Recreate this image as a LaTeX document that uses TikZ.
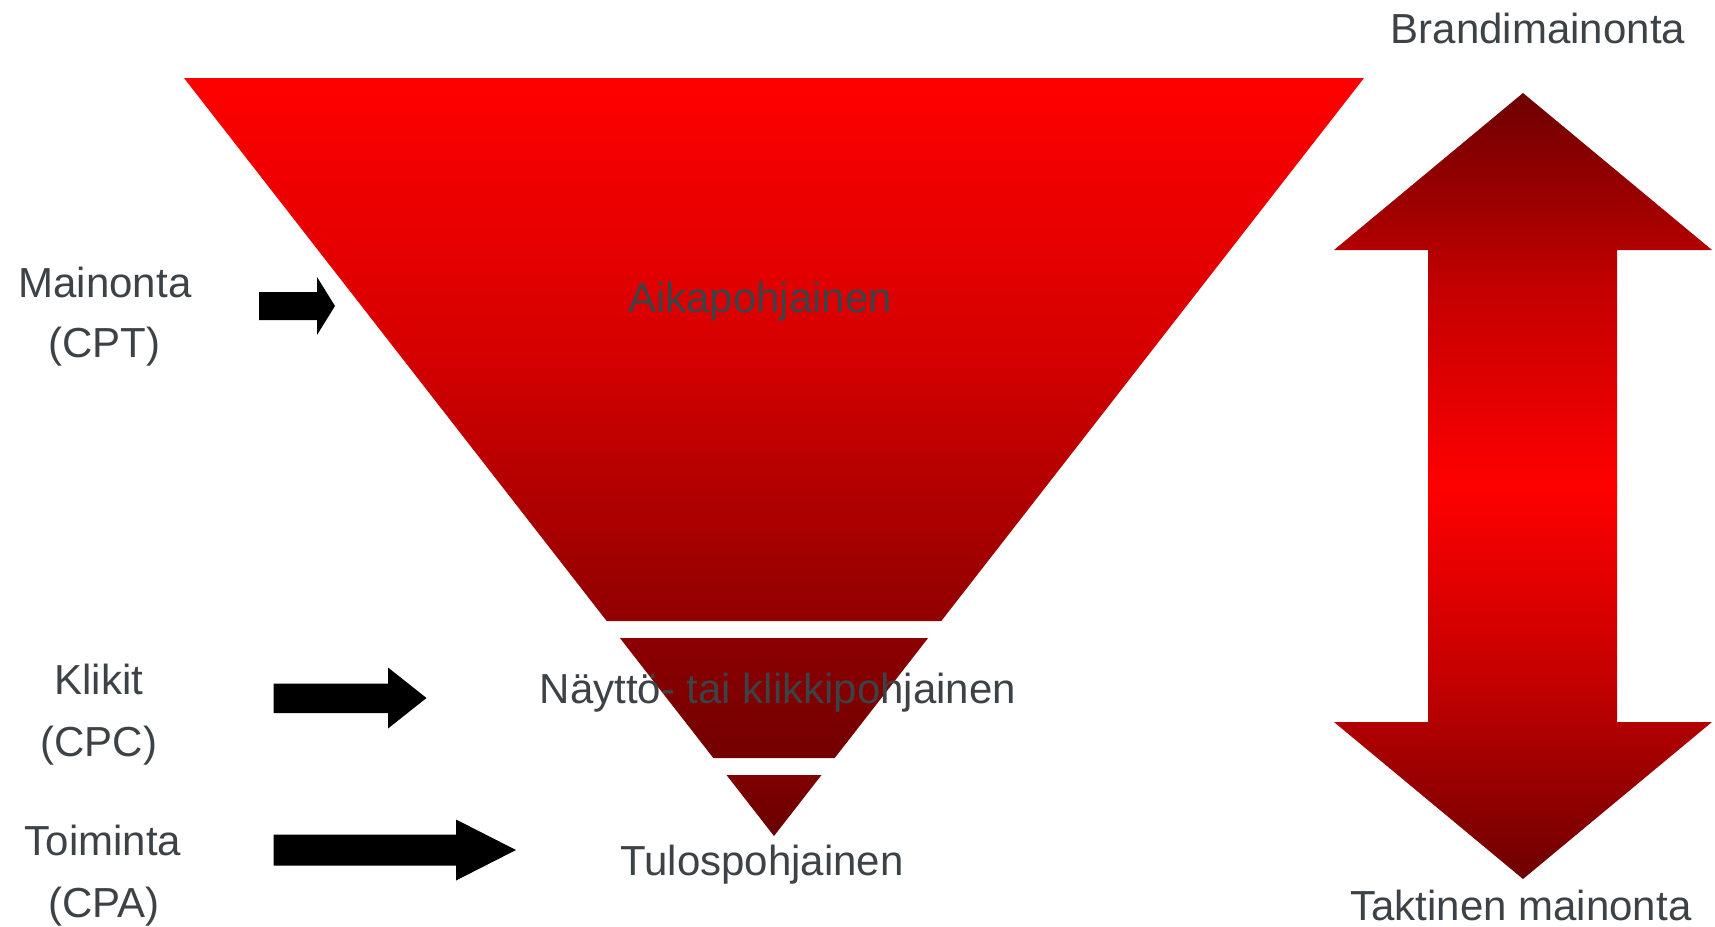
\documentclass[tikz,border=0pt]{standalone}
\usepackage{fontspec}
\setmainfont{Liberation Sans}
\definecolor{txt}{RGB}{60,66,70}
\definecolor{redA}{RGB}{255,0,0}
\definecolor{redB}{RGB}{145,0,0}
\definecolor{redM}{RGB}{214,0,0}
\definecolor{redC}{RGB}{140,0,0}
\definecolor{redD}{RGB}{115,0,0}
\definecolor{redE}{RGB}{128,0,0}
\definecolor{redF}{RGB}{105,0,0}
\definecolor{redG}{RGB}{110,0,0}
\definecolor{redH}{RGB}{196,0,0}
\tikzset{
  lbl/.style={anchor=base, inner sep=0pt, text=txt, font=\fontsize{21pt}{25pt}\selectfont},
  blockarrow/.style={fill=black, draw=none}
}
\begin{document}
\begin{tikzpicture}[x=0.5pt,y=0.5pt]
\useasboundingbox (0,0) rectangle (1715,-927);
% funnel segments
\shade[top color=redA, bottom color=redB, middle color=redM] (184,-78) -- (1364,-78) -- (941.3,-621) -- (606.7,-621) -- cycle;
\shade[top color=redC, bottom color=redD] (619.9,-638) -- (928.1,-638) -- (834.7,-758) -- (713.3,-758) -- cycle;
\shade[top color=redE, bottom color=redF] (726.5,-775) -- (821.5,-775) -- (774,-836) -- cycle;
% double arrow (two halves)
\shade[top color=redG, bottom color=redA, middle color=redH]
  (1523,-93) -- (1712,-250) -- (1617,-250) -- (1617,-487) -- (1428,-487) -- (1428,-250) -- (1334,-250) -- cycle;
\shade[top color=redA, bottom color=redG, middle color=redH]
  (1428,-485) -- (1617,-485) -- (1617,-722) -- (1712,-722) -- (1523,-879)
  -- (1334,-722) -- (1428,-722) -- cycle;
% black arrows
\fill[blockarrow] (259,-292) -- (317,-292) -- (317,-277) -- (335,-306) -- (317,-335) -- (317,-320) -- (259,-320) -- cycle;
\fill[blockarrow] (273.5,-683.5) -- (388,-683.5) -- (388,-667.5) -- (426.5,-698) -- (388,-728.5) -- (388,-713) -- (273.5,-713) -- cycle;
\fill[blockarrow] (273.5,-834.5) -- (456,-834.5) -- (456,-819.5) -- (516,-850) -- (456,-880.5) -- (456,-865.5) -- (273.5,-865.5) -- cycle;
% texts
\node[lbl] (aika) at (760,-312) {Aikapohjainen};
\node[lbl] (nay) at (778,-703) {Näyttö- tai klikkipohjainen};
\node[lbl] (tulos) at (762,-875) {Tulospohjainen};
\node[lbl] (brand) at (1538,-43) {Brandimainonta};
\node[lbl] (takt) at (1521,-920) {Taktinen mainonta};
\node[lbl] (main) at (105,-297) {Mainonta};
\node[lbl] (cpt) at (104.5,-357) {(CPT)};
\node[lbl] (klik) at (99,-694) {Klikit};
\node[lbl] (cpc) at (99,-756) {(CPC)};
\node[lbl] (toim) at (103,-855) {Toiminta};
\node[lbl] (cpa) at (104,-917) {(CPA)};
\end{tikzpicture}
\end{document}
